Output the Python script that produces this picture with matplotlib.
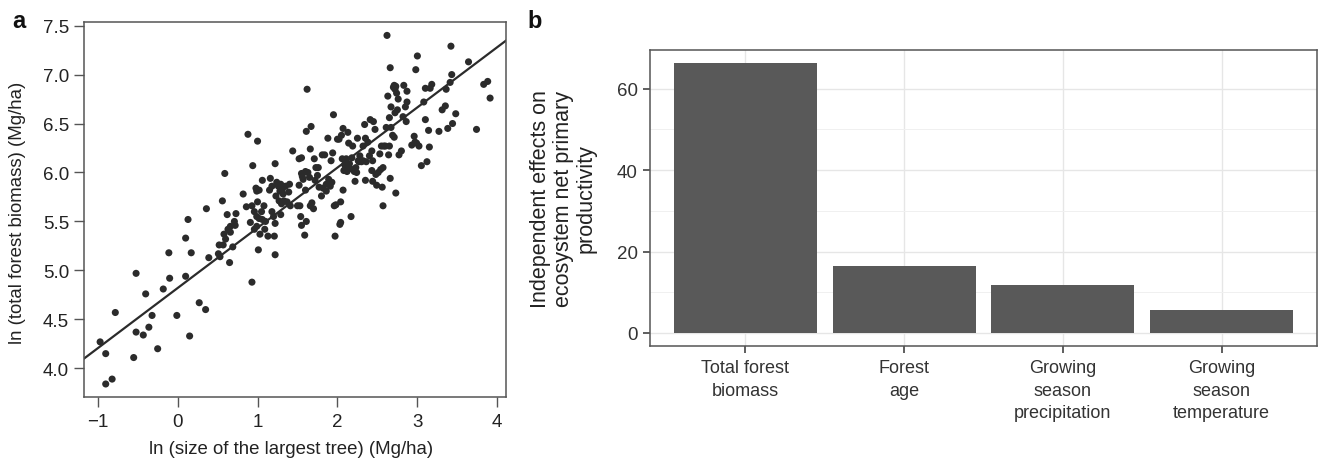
import matplotlib
matplotlib.use("Agg")
import matplotlib.pyplot as plt
import numpy as np

plt.rcParams['font.family'] = ['Liberation Sans', 'DejaVu Sans']

# ---------------- Data: panel a (scatter) ----------------
x_size = [-0.97, -0.90, -0.90, -0.82, -0.78, -0.55, -0.52, -0.52, -0.43, -0.40,
          -0.36, -0.32, -0.25, -0.18, -0.11, -0.10, -0.01, 0.10, 0.10, 0.13,
          0.15, 0.17, 0.27, 0.35, 0.36, 0.39, 0.51, 0.52, 0.53, 0.56,
          0.57, 0.58, 0.59, 0.60, 0.62, 0.63, 0.65, 0.66, 0.66, 0.69,
          0.71, 0.72, 0.73, 0.82, 0.86, 0.88, 0.91, 0.93, 0.93, 0.94,
          0.96, 0.96, 0.98, 0.99, 0.99, 0.99, 1.00, 1.00, 1.01, 1.02,
          1.02, 1.03, 1.05, 1.06, 1.06, 1.08, 1.09, 1.10, 1.13, 1.15,
          1.16, 1.18, 1.18, 1.20, 1.21, 1.22, 1.22, 1.22, 1.23, 1.24,
          1.26, 1.27, 1.28, 1.29, 1.29, 1.30, 1.31, 1.32, 1.33, 1.35,
          1.37, 1.39, 1.40, 1.41, 1.44, 1.50, 1.52, 1.52, 1.53, 1.54,
          1.55, 1.55, 1.55, 1.56, 1.57, 1.59, 1.60, 1.60, 1.61, 1.61,
          1.62, 1.63, 1.65, 1.66, 1.66, 1.67, 1.68, 1.70, 1.71, 1.72,
          1.73, 1.75, 1.76, 1.77, 1.80, 1.81, 1.82, 1.84, 1.86, 1.86,
          1.88, 1.89, 1.91, 1.92, 1.93, 1.94, 1.95, 1.96, 1.97, 1.98,
          2.00, 2.02, 2.03, 2.04, 2.04, 2.05, 2.06, 2.07, 2.07, 2.08,
          2.09, 2.10, 2.11, 2.12, 2.13, 2.14, 2.15, 2.16, 2.17, 2.18,
          2.19, 2.21, 2.22, 2.23, 2.24, 2.25, 2.26, 2.27, 2.28, 2.30,
          2.32, 2.32, 2.34, 2.35, 2.35, 2.36, 2.38, 2.40, 2.41, 2.43,
          2.43, 2.44, 2.44, 2.45, 2.47, 2.48, 2.49, 2.51, 2.53, 2.54,
          2.55, 2.56, 2.57, 2.57, 2.58, 2.60, 2.61, 2.62, 2.63, 2.64,
          2.65, 2.65, 2.66, 2.66, 2.67, 2.67, 2.69, 2.70, 2.71, 2.71,
          2.72, 2.72, 2.73, 2.73, 2.74, 2.75, 2.76, 2.77, 2.80, 2.82,
          2.83, 2.85, 2.86, 2.87, 2.87, 2.93, 2.96, 2.97, 2.98, 2.99,
          3.00, 3.02, 3.05, 3.08, 3.10, 3.10, 3.12, 3.14, 3.15, 3.16,
          3.18, 3.27, 3.31, 3.35, 3.36, 3.38, 3.41, 3.42, 3.43, 3.44,
          3.48, 3.64, 3.74, 3.83, 3.88, 3.91]
y_biomass = [4.27, 4.15, 3.84, 3.89, 4.57, 4.11, 4.37, 4.97, 4.34, 4.76,
             4.42, 4.54, 4.20, 4.81, 5.18, 4.92, 4.54, 5.33, 4.94, 5.52,
             4.33, 5.18, 4.67, 4.60, 5.63, 5.13, 5.17, 5.26, 5.14, 5.71,
             5.26, 5.37, 5.99, 5.32, 5.57, 5.42, 5.08, 5.39, 5.45, 5.24,
             5.50, 5.46, 5.58, 5.78, 5.65, 6.39, 5.49, 4.88, 5.66, 6.07,
             5.60, 5.42, 5.84, 5.81, 5.55, 5.45, 6.32, 5.70, 5.21, 5.53,
             5.82, 5.37, 5.60, 5.92, 5.52, 5.66, 5.42, 5.50, 5.35, 5.82,
             5.94, 5.86, 5.60, 5.55, 5.35, 5.16, 5.48, 6.09, 5.76, 5.90,
             5.86, 5.71, 5.81, 5.57, 5.88, 5.68, 5.83, 5.78, 5.71, 5.86,
             5.70, 5.80, 5.88, 5.66, 6.22, 5.66, 5.87, 6.14, 5.66, 5.55,
             6.15, 5.46, 5.99, 5.96, 5.93, 5.36, 6.01, 5.82, 6.42, 5.50,
             6.85, 6.00, 5.95, 5.66, 6.24, 6.47, 5.69, 5.63, 6.14, 5.92,
             6.05, 5.97, 6.05, 5.85, 5.76, 6.18, 5.84, 6.18, 5.88, 5.81,
             6.35, 5.93, 5.86, 6.12, 5.90, 6.20, 6.59, 5.66, 5.35, 5.67,
             6.34, 6.34, 5.47, 5.70, 5.49, 6.38, 6.14, 5.82, 6.45, 6.02,
             6.08, 6.04, 6.14, 6.01, 6.41, 6.30, 6.09, 6.04, 5.55, 6.15,
             6.27, 6.01, 5.91, 6.05, 6.00, 6.35, 6.12, 6.11, 6.17, 6.11,
             6.27, 6.12, 6.49, 5.92, 6.35, 6.11, 6.31, 6.17, 6.54, 6.22,
             6.02, 5.91, 6.12, 6.52, 6.44, 5.98, 5.87, 6.00, 6.19, 6.03,
             6.27, 5.85, 5.66, 6.05, 6.27, 6.27, 6.46, 7.40, 6.78, 6.18,
             6.27, 6.56, 5.94, 7.07, 6.67, 6.46, 6.38, 6.87, 6.36, 6.89,
             6.85, 6.61, 5.79, 6.88, 6.81, 6.64, 6.75, 6.18, 6.22, 6.57,
             6.89, 6.67, 6.52, 6.72, 6.83, 6.28, 6.37, 6.31, 7.05, 6.30,
             7.19, 6.27, 6.07, 6.72, 6.54, 6.86, 6.11, 6.43, 6.26, 6.86,
             6.90, 6.42, 6.64, 6.68, 6.85, 6.45, 6.92, 7.29, 7.00, 6.50,
             6.60, 7.13, 6.44, 6.90, 6.93, 6.76]

fit_intercept = 4.82
fit_slope = 0.615

x_ticks_a = [-1, 0, 1, 2, 3, 4]
y_ticks_a = [4.0, 4.5, 5.0, 5.5, 6.0, 6.5, 7.0, 7.5]

# ---------------- Data: panel b (bars) ----------------
categories = ["Total forest\nbiomass", "Forest\nage",
              "Growing\nseason\nprecipitation", "Growing\nseason\ntemperature"]
effects = [66.3, 16.5, 11.7, 5.5]
y_ticks_b = [0, 20, 40, 60]

# ---------------- Figure ----------------
W, H = 1319, 464
fig = plt.figure(figsize=(W / 100, H / 100), dpi=100)

def rect(l, t, r, b):
    return [l / W, 1 - b / H, (r - l) / W, (b - t) / H]

# Panel a
axa = fig.add_axes(rect(84.3, 22.7, 506, 398.3))
axa.scatter(x_size, y_biomass, s=26, color="#2b2b2b", edgecolors="none", zorder=3)
xl = np.array([-1.168, 4.109])
axa.plot(xl, fit_intercept + fit_slope * xl, color="#2b2b2b", lw=1.6, zorder=2)
axa.set_xlim(-1.168, 4.109)
axa.set_ylim(3.704, 7.54)
axa.set_xticks(x_ticks_a)
axa.set_yticks(y_ticks_a)
axa.set_yticklabels([f"{v:.1f}" for v in y_ticks_a])
axa.tick_params(direction="out", length=7, width=1, color="#555555",
                labelsize=13.5, labelcolor="#222222", pad=4)
for s in axa.spines.values():
    s.set_color("#555555")
    s.set_linewidth(1.1)
fig.text(291 / W, 1 - 450 / H, "ln (size of the largest tree) (Mg/ha)",
         ha="center", va="center", fontsize=13.4, color="#222222")
fig.text(18 / W, 1 - 213 / H, "ln (total forest biomass) (Mg/ha)",
         ha="center", va="center", rotation=90, fontsize=13.4, color="#222222")
fig.text(12 / W, 1 - 28.5 / H, "a", fontsize=17, fontweight="bold", ha="left",
         va="baseline", color="#111111")

# Panel b
axb = fig.add_axes(rect(650, 50.7, 1317, 347.3))
pos = np.arange(1, len(categories) + 1)
axb.bar(pos, effects, width=0.9, color="#595959", zorder=3)
axb.set_xlim(0.4, len(categories) + 0.6)
axb.set_ylim(-3.3, 69.6)
axb.set_yticks(y_ticks_b)
axb.set_yticks([10, 30, 50], minor=True)
axb.set_xticks(pos)
axb.set_xticklabels(categories, fontsize=13, color="#333333", linespacing=1.45)
axb.set_yticklabels([str(v) for v in y_ticks_b], fontsize=13.5, color="#333333")
axb.grid(True, which="major", color="#e6e6e6", lw=1.0, zorder=0)
axb.grid(True, which="minor", axis="y", color="#f0f0f0", lw=0.7, zorder=0)
axb.tick_params(which="major", direction="out", length=5, width=1.1,
                color="#333333", pad=4)
axb.tick_params(which="minor", length=0)
for s in axb.spines.values():
    s.set_color("#555555")
    s.set_linewidth(1.1)
fig.text(563 / W, 1 - 199 / H,
         "Independent effects on\necosystem net primary\nproductivity",
         ha="center", va="center", rotation=90, fontsize=15.5, color="#222222",
         linespacing=1.12, multialignment="center")
fig.text(527 / W, 1 - 28.5 / H, "b", fontsize=17, fontweight="bold", ha="left",
         va="baseline", color="#111111")

fig.savefig("out.png", dpi=100)
